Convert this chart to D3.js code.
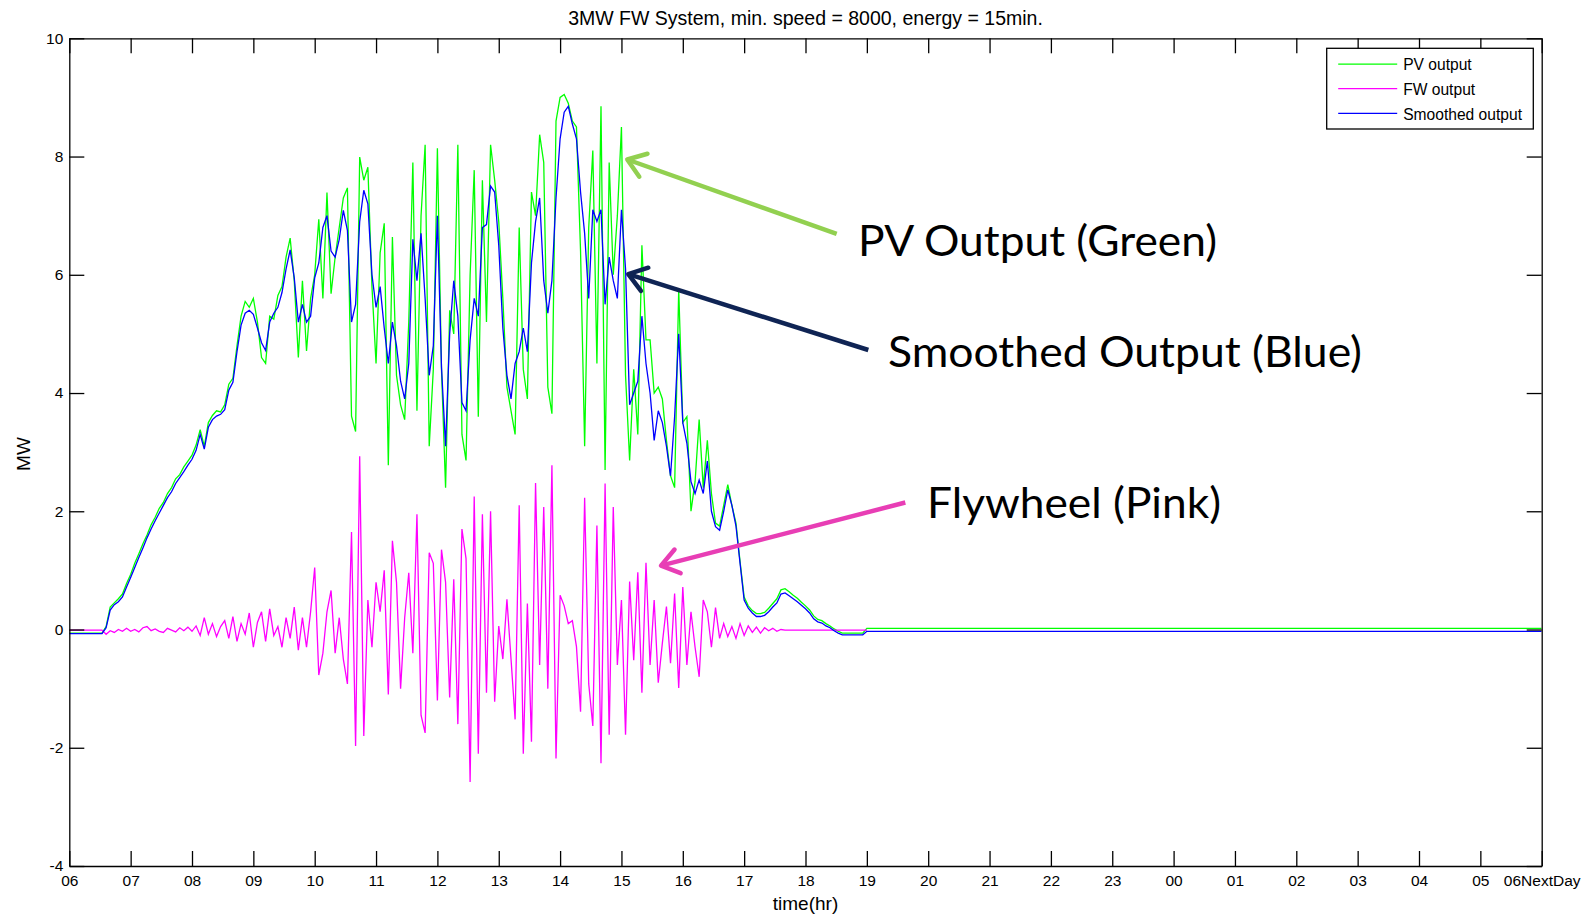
<!DOCTYPE html>
<html>
<head>
<meta charset="utf-8">
<script src="https://cdn.jsdelivr.net/npm/d3@7"></script>
<style>
body { margin: 0; background: #fff; }
</style>
</head>
<body>
<div id="chart"></div>
<script>
// one sample every 4 minutes, 06:00 -> 19:00 (MW), one row per hour
var stepMinutes = 4;

var smoothedOutput = [
  -0.07,-0.07,-0.07,-0.07,-0.07,-0.07,-0.07,-0.07,-0.07,0.03,0.33,0.42,0.47,0.55,0.72,
  0.88,1.05,1.22,1.38,1.55,1.70,1.84,1.97,2.10,2.23,2.33,2.47,2.57,2.67,2.78,
  2.88,3.03,3.30,3.05,3.42,3.55,3.61,3.64,3.72,4.05,4.18,4.70,5.15,5.35,5.40,
  5.33,5.10,4.85,4.72,5.20,5.35,5.45,5.70,6.10,6.42,5.95,5.20,5.50,5.20,5.30,
  5.95,6.20,6.80,7.00,6.40,6.30,6.60,7.09,6.75,5.20,5.50,6.90,7.43,7.20,6.00,
  5.45,5.80,5.10,4.50,5.20,4.80,4.20,3.90,4.50,6.60,5.90,6.70,5.60,4.30,4.80,
  7.00,4.44,3.10,5.00,5.90,5.30,3.84,3.70,4.90,5.60,5.30,6.80,6.85,7.50,7.40,
  6.50,5.10,4.30,3.90,4.50,4.70,5.10,4.70,6.20,6.90,7.30,5.90,5.35,5.90,7.30,
  8.30,8.75,8.85,8.55,8.30,7.40,6.70,5.60,7.10,6.90,7.10,5.50,6.30,5.90,5.60,
  7.10,6.10,3.80,4.00,4.20,5.30,4.50,4.00,3.20,3.70,3.50,3.10,2.60,3.60,5.00,
  3.50,3.15,2.50,2.30,2.53,2.30,2.85,2.00,1.74,1.68,2.00,2.36,2.10,1.75,1.12,
  0.50,0.36,0.28,0.22,0.22,0.24,0.30,0.38,0.45,0.60,0.62,0.57,0.52,0.47,0.41,
  0.35,0.28,0.18,0.13,0.11,0.06,0.03,-0.02,-0.06,-0.09,-0.09,-0.09,-0.09,-0.09,-0.09,
  -0.03
];

var pvOutput = [
  -0.06,-0.06,-0.06,-0.06,-0.06,-0.06,-0.06,-0.06,-0.06,0.05,0.38,0.45,0.52,0.60,0.78,
  0.93,1.12,1.28,1.45,1.60,1.77,1.90,2.05,2.15,2.30,2.40,2.55,2.62,2.75,2.85,
  2.95,3.12,3.38,3.10,3.50,3.62,3.70,3.68,3.80,4.15,4.25,4.80,5.30,5.55,5.45,
  5.60,5.20,4.60,4.50,5.30,5.25,5.65,5.80,6.30,6.62,5.90,4.60,5.90,4.71,5.60,
  6.00,6.94,5.60,7.39,5.68,6.30,6.80,7.30,7.47,3.61,3.35,7.99,7.60,7.82,5.80,
  4.50,6.37,6.87,2.78,6.64,4.30,3.80,3.55,5.20,7.90,3.70,7.00,8.20,3.10,4.40,
  8.14,4.40,2.40,5.40,5.00,8.20,3.30,2.86,6.00,7.77,3.60,7.60,5.20,8.20,7.60,
  6.90,5.60,4.10,3.70,3.30,6.80,4.40,3.90,7.40,7.00,8.37,7.90,4.10,3.65,8.60,
  9.00,9.05,8.90,8.60,8.50,6.40,3.10,6.80,8.10,4.50,8.85,2.70,7.90,6.00,7.00,
  8.50,4.30,2.86,4.40,3.30,6.50,4.90,4.90,4.00,4.10,3.90,3.20,2.60,2.40,5.75,
  3.50,3.60,2.00,2.50,3.55,2.40,3.20,2.30,1.80,1.75,2.10,2.45,2.10,1.80,1.15,
  0.55,0.40,0.32,0.27,0.27,0.29,0.36,0.44,0.52,0.67,0.69,0.64,0.58,0.53,0.46,
  0.40,0.33,0.23,0.17,0.15,0.10,0.06,0.01,-0.03,-0.06,-0.06,-0.06,-0.06,-0.06,-0.06,
  0.02
];

var fwOutput = [
  -0.01,-0.01,-0.01,-0.01,-0.01,-0.01,-0.01,-0.01,-0.01,-0.08,-0.02,-0.05,0.00,-0.03,0.02,
  -0.03,0.00,-0.04,0.03,0.05,-0.02,0.01,-0.03,-0.05,0.02,-0.01,-0.04,0.03,-0.02,0.04,
  -0.03,0.06,-0.10,0.20,-0.08,0.10,-0.12,0.05,0.15,-0.15,0.22,-0.20,0.10,-0.08,0.28,
  -0.30,0.12,0.30,-0.20,0.35,-0.10,0.05,-0.30,0.20,-0.15,0.38,-0.35,0.20,-0.30,0.30,
  1.05,-0.77,-0.40,0.30,0.66,-0.40,0.20,-0.50,-0.92,1.65,-1.97,2.93,-1.80,0.50,-0.30,
  0.80,0.30,1.00,-1.10,1.50,0.80,-1.00,0.20,0.96,-0.40,1.95,-1.45,-1.75,1.30,1.12,
  -1.20,1.35,0.80,-1.15,0.85,-1.60,1.70,1.20,-2.58,2.25,-2.10,1.95,-1.07,2.00,-1.22,
  0.06,-0.50,0.51,-0.50,-1.52,2.10,-2.10,0.44,-1.90,2.48,-0.60,2.07,-1.00,2.78,-2.18,
  0.58,0.40,0.10,0.15,-0.29,-1.39,2.23,-0.92,-1.63,1.76,-2.26,2.47,-1.78,2.07,-0.60,
  0.50,-1.78,0.81,-0.52,0.97,-1.07,1.13,-0.60,0.50,-0.90,-0.23,0.39,-0.57,0.61,-0.99,
  0.72,-0.60,0.30,-0.30,-0.80,0.50,0.30,-0.30,0.37,-0.15,0.10,-0.12,0.05,-0.15,0.10,
  -0.10,0.06,-0.05,0.04,-0.06,0.03,-0.02,0.02,-0.03,0.00,-0.01,-0.01,-0.01,-0.01,-0.01,
  -0.01,-0.01,-0.01,-0.01,-0.01,-0.01,-0.01,-0.01,-0.01,-0.01,-0.01,-0.01,-0.01,-0.01,-0.01,
  -0.01
];

// flat night values, hours after 06:00
var nightHours = [13, 24];
var pvNight = [0.02, 0.02];
var smoothedNight = [-0.03, -0.03];

var xTickLabels = ["06","07","08","09","10","11","12","13","14","15","16","17","18",
  "19","20","21","22","23","00","01","02","03","04","05","06NextDay"];
var yTicks = [-4, -2, 0, 2, 4, 6, 8, 10];
var legendNames = ["PV output", "FW output", "Smoothed output"];
var legendColors = ["#00ff00", "#ff00ff", "#0000ff"];

var margin = {top: 38.3, right: 53.3, bottom: 49, left: 69.3},
    width = 1595 - margin.left - margin.right,
    height = 915 - margin.top - margin.bottom;

var x = d3.scaleLinear().domain([0, 24]).range([0, width]);
var y = d3.scaleLinear().domain([-4, 10]).range([height, 0]);

var svg = d3.select("#chart").append("svg")
    .attr("width", 1595)
    .attr("height", 915)
    .style("font-family", "'Liberation Sans', Arial, sans-serif");

var g = svg.append("g")
    .attr("transform", "translate(" + margin.left + "," + margin.top + ")");

g.append("clipPath").attr("id", "plotclip")
  .append("rect").attr("width", width).attr("height", height);

function toPoints(values) {
  return values.map(function(v, i) { return [i * stepMinutes / 60, v]; });
}
var pvPts = toPoints(pvOutput).concat(nightHours.map(function(h, i) { return [h, pvNight[i]]; }));
var smPts = toPoints(smoothedOutput).concat(nightHours.map(function(h, i) { return [h, smoothedNight[i]]; }));
var fwPts = toPoints(fwOutput);

var line = d3.line()
    .x(function(d) { return x(d[0]); })
    .y(function(d) { return y(d[1]); });

var traces = g.append("g").attr("clip-path", "url(#plotclip)");
[[pvPts, legendColors[0]], [fwPts, legendColors[1]], [smPts, legendColors[2]]].forEach(function(s) {
  traces.append("path")
      .datum(s[0])
      .attr("fill", "none")
      .attr("stroke", s[1])
      .attr("stroke-width", 1.3)
      .attr("stroke-linejoin", "miter")
      .attr("d", line);
});

// axes: ticks point inward on all four sides
function styleAxis(sel) {
  sel.select(".domain").attr("stroke", "#000").attr("stroke-width", 1.3);
  sel.selectAll(".tick line").attr("stroke", "#000").attr("stroke-width", 1.3);
  sel.selectAll("text").attr("font-size", 15.5).attr("fill", "#000")
     .attr("font-family", "'Liberation Sans', Arial, sans-serif");
}
g.append("g")
    .attr("transform", "translate(0," + height + ")")
    .call(d3.axisBottom(x).tickValues(d3.range(25))
      .tickFormat(function(d, i) { return xTickLabels[i]; })
      .tickSizeInner(-15).tickSizeOuter(0).tickPadding(9))
    .call(styleAxis);
g.append("g")
    .call(d3.axisTop(x).tickValues(d3.range(25)).tickFormat("")
      .tickSizeInner(-15).tickSizeOuter(0))
    .call(styleAxis);
g.append("g")
    .call(d3.axisLeft(y).tickValues(yTicks)
      .tickFormat(function(d) { return String(d); })
      .tickSizeInner(-15).tickSizeOuter(0).tickPadding(6))
    .call(styleAxis);
g.append("g")
    .attr("transform", "translate(" + width + ",0)")
    .call(d3.axisRight(y).tickValues(yTicks).tickFormat("")
      .tickSizeInner(-15).tickSizeOuter(0))
    .call(styleAxis);

// titles
svg.append("text")
    .attr("x", margin.left + width / 2).attr("y", 24.5)
    .attr("text-anchor", "middle").attr("font-size", 19.5)
    .text("3MW FW System, min. speed = 8000, energy = 15min.");
svg.append("text")
    .attr("x", margin.left + width / 2).attr("y", 910)
    .attr("text-anchor", "middle").attr("font-size", 19)
    .text("time(hr)");
svg.append("text")
    .attr("transform", "translate(29.5,454) rotate(-90)")
    .attr("text-anchor", "middle").attr("font-size", 19)
    .text("MW");

// legend
var legend = svg.append("g").attr("transform", "translate(1326.7,48.3)");
legend.append("rect")
    .attr("width", 206.6).attr("height", 80.7)
    .attr("fill", "#fff").attr("stroke", "#000").attr("stroke-width", 1.3);
legendNames.forEach(function(name, i) {
  var ly = 15.8 + i * 24.6;
  legend.append("line")
      .attr("x1", 11.5).attr("x2", 70.5).attr("y1", ly).attr("y2", ly)
      .attr("stroke", legendColors[i]).attr("stroke-width", 1.3);
  legend.append("text")
      .attr("x", 76.5).attr("y", ly).attr("dy", "0.4em")
      .attr("font-size", 15.6).attr("fill", "#000")
      .text(name);
});

// callouts, anchored in data units
var callouts = [
  {text: "PV Output (Green)", color: "#92d050", tail: [12.508, 6.69], tip: [9.095, 7.95], at: [12.856, 6.31], len: 359},
  {text: "Smoothed Output (Blue)", color: "#0f2454", tail: [13.024, 4.728], tip: [9.112, 6.01], at: [13.345, 4.44], len: 474},
  {text: "Flywheel (Pink)", color: "#e83eb5", tail: [13.627, 2.148], tip: [9.645, 1.081], at: [13.981, 1.886], len: 294}
];
var notes = g.append("g");
callouts.forEach(function(c) {
  var x0 = x(c.tail[0]), y0 = y(c.tail[1]), x1 = x(c.tip[0]), y1 = y(c.tip[1]);
  var ang = Math.atan2(y0 - y1, x0 - x1), barb = 21, spread = 0.62;
  notes.append("line")
      .attr("x1", x0).attr("y1", y0).attr("x2", x1).attr("y2", y1)
      .attr("stroke", c.color).attr("stroke-width", 4.5).attr("stroke-linecap", "butt");
  notes.append("path")
      .attr("d", "M" + (x1 + barb * Math.cos(ang - spread)) + "," + (y1 + barb * Math.sin(ang - spread)) +
                 "L" + x1 + "," + y1 +
                 "L" + (x1 + barb * Math.cos(ang + spread)) + "," + (y1 + barb * Math.sin(ang + spread)))
      .attr("fill", "none").attr("stroke", c.color).attr("stroke-width", 4.5)
      .attr("stroke-linecap", "round").attr("stroke-linejoin", "round");
  notes.append("text")
      .attr("x", x(c.at[0])).attr("y", y(c.at[1]))
      .attr("font-family", "Lato, 'Open Sans', sans-serif")
      .attr("font-size", 43).attr("fill", "#000")
      .attr("textLength", c.len).attr("lengthAdjust", "spacingAndGlyphs")
      .text(c.text);
});
</script>
</body>
</html>
